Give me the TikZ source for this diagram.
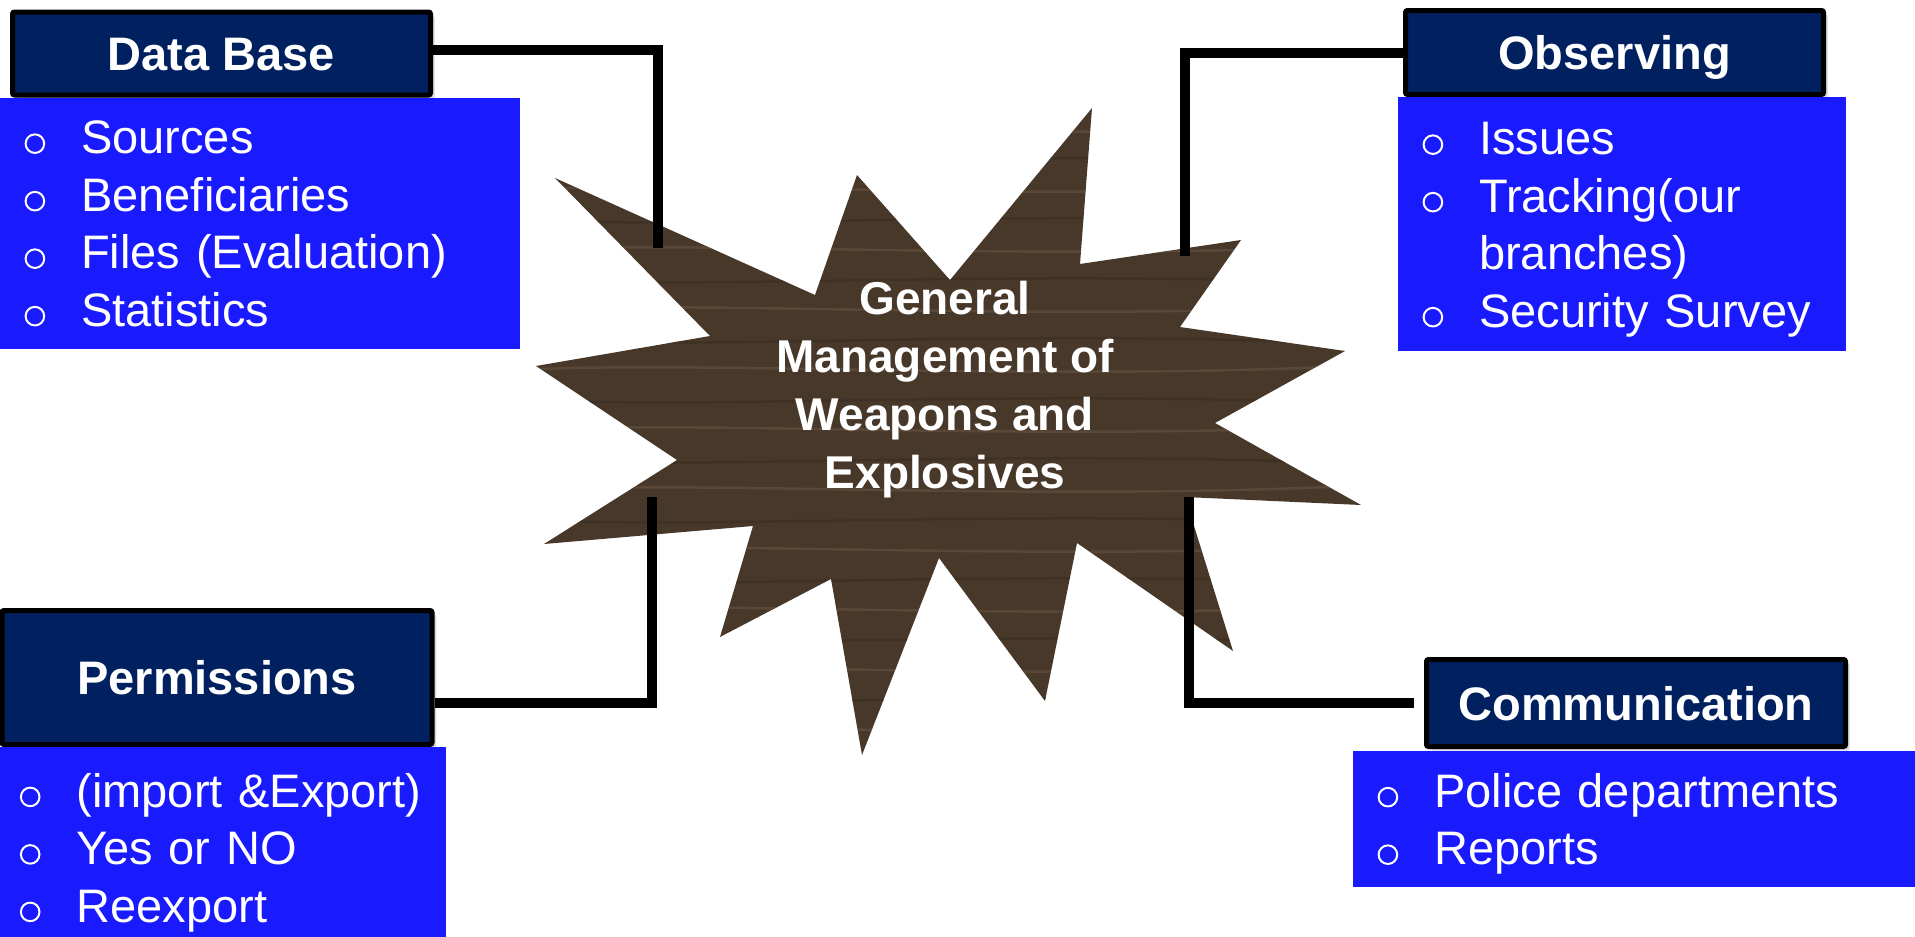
\documentclass[tikz,border=0pt]{standalone}
\usepackage{fontspec}
\setmainfont{Liberation Sans}
\usetikzlibrary{shadows}
\setlength{\parindent}{0pt}

\definecolor{headnavy}{HTML}{002060}
\definecolor{bodyblue}{HTML}{1A1AFF}
\definecolor{woodbrown}{HTML}{48382A}
\definecolor{woodlight}{HTML}{7A6550}
\definecolor{wooddark}{HTML}{30251B}

% bullet and blank indent, both with a fixed strut
\newcommand{\bul}{\rule[-11.75pt]{0pt}{57.5pt}\makebox[56.6pt][l]{\tikz[baseline=0pt]\draw[white, line width=2pt] (9.3pt,10.3pt) circle[radius=9.3pt];}}
\newcommand{\nobul}{\rule[-11.75pt]{0pt}{57.5pt}\hspace*{56.6pt}}

\begin{document}
\begin{tikzpicture}[
    x=1pt, y=-1pt,
    headbox/.style={draw=black, line width=5pt, fill=headnavy, text=white, rounded corners=2pt,
      inner sep=0pt, text height=34pt, text depth=0pt, font=\bfseries\fontsize{47}{56}\selectfont,
      drop shadow={shadow xshift=4pt, shadow yshift=-4pt, opacity=0.3}},
    bodybox/.style={fill=bodyblue, text=white, anchor=north west, inner ysep=0pt, inner xsep=24.4pt,
      align=left, font=\fontsize{47}{57.5}\selectfont},
    link/.style={draw=black, line width=10pt},
    grain/.style={line width=2.5pt, opacity=0.35}
  ]
  \useasboundingbox (0,0) rectangle (1915,937);

  % Star
  \begin{scope}
    \clip (555,178) -- (815,295) -- (857,175) -- (950,280) -- (1092,108) -- (1080,264)
      -- (1241,240) -- (1180,327) -- (1345,351) -- (1215,423) -- (1361,505) -- (1185,497)
      -- (1233,651) -- (1077,543) -- (1045,701) -- (939,558) -- (862,755) -- (831,579)
      -- (720,637) -- (753,526) -- (544,544) -- (677,460) -- (536,366) -- (710,336) -- cycle;
    \fill[woodbrown] (520,100) rectangle (1370,760);
    \foreach \gy in {130,190,...,730}
      \draw[grain, woodlight] (520,\gy) .. controls (700,\gy-10) and (1050,\gy+12) .. (1370,\gy-5);
    \foreach \gy in {160,220,...,760}
      \draw[grain, wooddark] (520,\gy) .. controls (760,\gy+9) and (1000,\gy-11) .. (1370,\gy+4);
  \end{scope}
  \node[text=white, align=center, font=\bfseries\fontsize{46}{58}\selectfont] (hub) at (945,390)
    {General\\Management of\\Weapons and\\Explosives};

  % Headers
  \node[headbox, minimum width=418pt, minimum height=83pt] (dbhead) at (221.5,53.5) {Data Base};
  \node[headbox, minimum width=418pt, minimum height=84pt] (obshead) at (1614.5,52.5) {Observing};
  \node[headbox, minimum width=430pt, minimum height=134pt] (permhead) at (217,677.5) {Permissions};
  \node[headbox, minimum width=419pt, minimum height=87pt] (commhead) at (1636,703) {Communication};

  % Lists
  \node[bodybox, minimum width=520pt, minimum height=251pt, text width=471.2pt] (dbbody) at (0,97.5)
    {\bul Sources\\ \bul Beneficiaries\\ \bul Files~(Evaluation)\\ \bul Statistics};
  \node[bodybox, minimum width=448pt, minimum height=254pt, text width=399.2pt] (obsbody) at (1398,97)
    {\bul Issues\\ \bul Tracking(our\\ \nobul branches)\\ \bul Security~Survey};
  \node[bodybox, inner xsep=19.7pt, minimum width=446pt, minimum height=201pt, text width=406.6pt] (permbody) at (0,747)
    {\bul (import~\&Export)\\ \bul Yes or NO\\ \bul Reexport};
  \node[bodybox, minimum width=570pt, minimum height=136pt, text width=521.2pt] (commbody) at (1353,751)
    {\bul Police~departments\\ \bul Reports};

  % Connectors
  \coordinate (dbend) at (658,248);
  \coordinate (obsend) at (1185,256);
  \coordinate (permend) at (652,497);
  \coordinate (commend) at (1189,497);
  \draw[link] ([yshift=3.5pt]dbhead.east) -| (dbend);
  \draw[link] (obshead.west) -| (obsend);
  \draw[link] ([yshift=-25.5pt]permhead.east) -| (permend);
  \draw[link, shorten <=10pt] (commhead.west) -| (commend);
\end{tikzpicture}
\end{document}
